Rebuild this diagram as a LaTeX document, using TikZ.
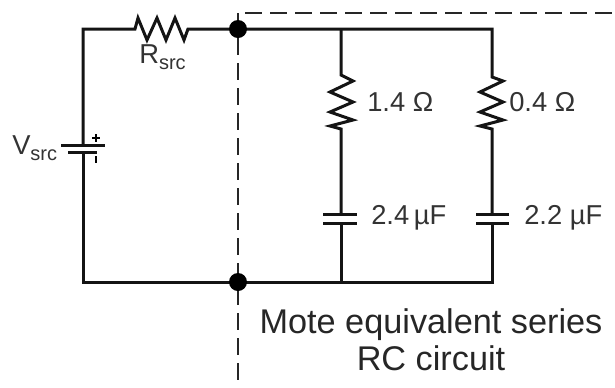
\documentclass[tikz,border=0pt]{standalone}
\usepackage{fontspec}
\setmainfont{Liberation Sans}
\tikzset{
  wire/.style={line width=2.25pt,line join=miter,black!92},
  plate/.style={line width=2.25pt,black!92},
  bound/.style={line width=1.5pt,black!85,dash pattern=on 12.75pt off 6pt},
  dotn/.style={circle,fill=black,inner sep=0pt,minimum size=13.5pt},
  lab/.style={inner sep=0pt,text=black!80,font=\fontsize{20.5pt}{24pt}\selectfont},
  big/.style={inner sep=0pt,text=black!85,font=\fontsize{25.7pt}{28pt}\selectfont,align=center}
}
\newcommand{\subt}[1]{\raisebox{-0.22em}{\fontsize{15pt}{15pt}\selectfont #1}}
\begin{document}
\begin{tikzpicture}[x=0.75pt,y=-0.75pt]
\useasboundingbox (0,0) rectangle (615,387);
\coordinate (TL) at (83,29);
\coordinate (BL) at (83,282);
\coordinate (TR) at (492,29);
\coordinate (BR) at (492,282);
\coordinate (TM) at (341,29);
\coordinate (BM) at (341,282);
\coordinate (DT) at (238,387);
\coordinate (DC) at (238,13);
\coordinate (DH) at (245,13);
\coordinate (DE) at (615,13);
% boundary
\draw[bound] (DC) -- (DT);
\draw[bound] (DH) -- (DE);
% outer wires
\draw[wire] (83,145) -- (TL) -- (135,29)
  -- (138,18) -- (147,40) -- (157,18) -- (166,40) -- (175,18) -- (184,40) -- (188,29)
  -- (TR) -- (492,77) -- (503,81) -- (480,92) -- (503,102) -- (480,112) -- (503,120) -- (480,126) -- (492,129) -- (492,214);
\draw[wire] (83,152) -- (BL) -- (BR) -- (492,223);
% middle branch
\draw[wire] (TM) -- (341,75) -- (353,81) -- (330,92) -- (353,102) -- (330,112) -- (353,120) -- (330,126) -- (341,129) -- (341,214);
\draw[wire] (BM) -- (341,223);
% capacitors
\draw[plate] (323,214) -- (357,214) (323,223) -- (357,223);
\draw[plate] (476,214) -- (509,214) (476,223) -- (509,223);
% battery
\draw[plate] (61,145) -- (105,145);
\draw[plate] (68,152) -- (97,152);
\draw[line width=1.7pt] (92,138) -- (100,138) (96,134) -- (96,142);
\draw[line width=2.2pt] (96,156) -- (96,163);
% junctions
\node[dotn] (J1) at (238,29) {};
\node[dotn] (J2) at (238,282) {};
% labels
\node[lab,anchor=west] (Rs) at (139,57) {R\subt{src}};
\node[lab,anchor=west] (Vs) at (12,148) {V\subt{src}};
\node[lab,anchor=west] (R1) at (367,102) {1.4 Ω};
\node[lab,anchor=west] (R2) at (509,102) {0.4 Ω};
\node[lab,anchor=west] (C1) at (371,218) {2.4\,µF};
\node[lab,anchor=west] (C2) at (524,218) {2.2 µF};
\node[big] (T) at (431,340) {Mote equivalent series\\RC circuit};
\end{tikzpicture}
\end{document}
